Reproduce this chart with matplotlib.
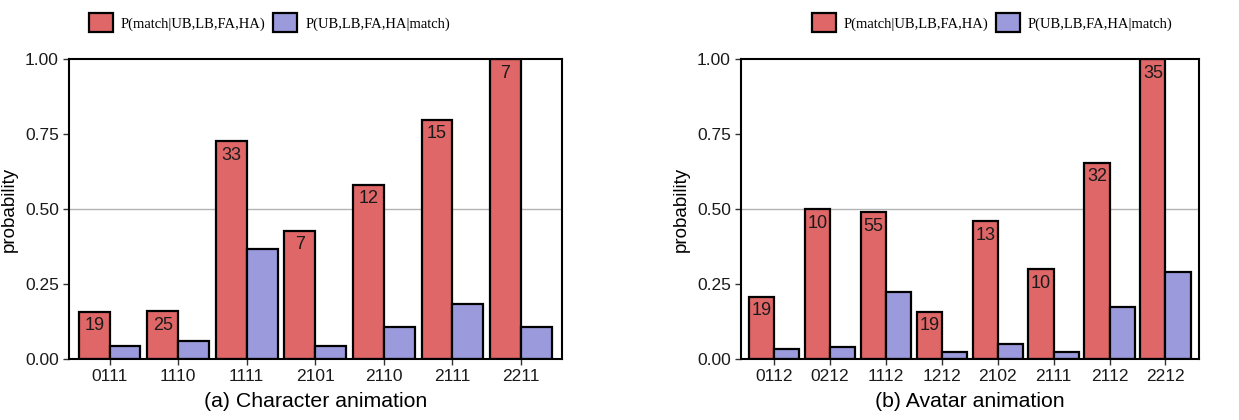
import matplotlib
matplotlib.use("Agg")
import matplotlib.pyplot as plt
from matplotlib.patches import Patch
import numpy as np

plt.rcParams['font.family'] = ['Liberation Sans', 'DejaVu Sans']

# (a) character animation
char_labels = ['0111', '1110', '1111', '2101', '2110', '2111', '2211']
char_p_match = [0.158, 0.159, 0.726, 0.427, 0.581, 0.798, 1.0]
char_p_cond = [0.043, 0.061, 0.367, 0.043, 0.106, 0.182, 0.106]
char_counts = [19, 25, 33, 7, 12, 15, 7]

# (b) avatar animation
avat_labels = ['0112', '0212', '1112', '1212', '2102', '2111', '2112', '2212']
avat_p_match = [0.208, 0.5, 0.49, 0.157, 0.46, 0.3, 0.654, 1.0]
avat_p_cond = [0.032, 0.04, 0.223, 0.023, 0.049, 0.023, 0.174, 0.29]
avat_counts = [19, 10, 55, 19, 13, 10, 32, 35]

RED = '#df6767'
BLUE = '#9a9adc'
legend_names = ['P(match|UB,LB,FA,HA)', 'P(UB,LB,FA,HA|match)']

fig = plt.figure(figsize=(12.39, 4.2), dpi=100)


def panel(rect, labels, p_match, p_cond, counts, caption, legend_x):
    ax = fig.add_axes(rect)
    x = np.arange(len(labels))
    w = 0.45
    ax.axhline(0.5, color='#b3b3b3', lw=1.0, zorder=0)
    ax.bar(x - w / 2, p_match, w, color=RED, edgecolor='black', lw=1.6, zorder=2)
    ax.bar(x + w / 2, p_cond, w, color=BLUE, edgecolor='black', lw=1.6, zorder=2)
    for xi, h, n in zip(x, p_match, counts):
        ax.annotate(str(n), (xi - w / 2, h), xytext=(0, -4), textcoords='offset points',
                    ha='center', va='top', fontsize=13, color='#1a1a1a', zorder=3)
    ax.set_xlim(-0.6, len(labels) - 0.4)
    ax.set_ylim(0, 1)
    ax.set_xticks(x)
    ax.set_xticklabels(labels)
    ax.set_yticks([0, 0.25, 0.5, 0.75, 1.0])
    ax.set_yticklabels(['0.00', '0.25', '0.50', '0.75', '1.00'])
    ax.tick_params(labelsize=12.5, length=4, width=1, color='#333333', pad=3,
                   labelcolor='#1a1a1a')
    for s in ax.spines.values():
        s.set_linewidth(1.5)
    ax.set_ylabel('probability', fontsize=13.5, labelpad=5)
    ax.set_xlabel(caption, fontsize=15.3, labelpad=6)
    handles = [Patch(facecolor=RED, edgecolor='black', lw=1.6),
               Patch(facecolor=BLUE, edgecolor='black', lw=1.6)]
    fig.legend(handles, legend_names, loc='center', bbox_to_anchor=(legend_x, 0.946),
               ncol=2, frameon=False, prop={'family': 'Liberation Serif', 'size': 10.5},
               handlelength=1.62, handleheight=1.6, columnspacing=0.55,
               handletextpad=0.55, borderaxespad=0, borderpad=0)
    return ax


panel([0.0553, 0.1452, 0.3983, 0.7143], char_labels, char_p_match, char_p_cond,
      char_counts, '(a) Character animation', 0.2175)
panel([0.5977, 0.1452, 0.3700, 0.7143], avat_labels, avat_p_match, avat_p_cond,
      avat_counts, '(b) Avatar animation', 0.801)

fig.savefig('out.png', dpi=100)
